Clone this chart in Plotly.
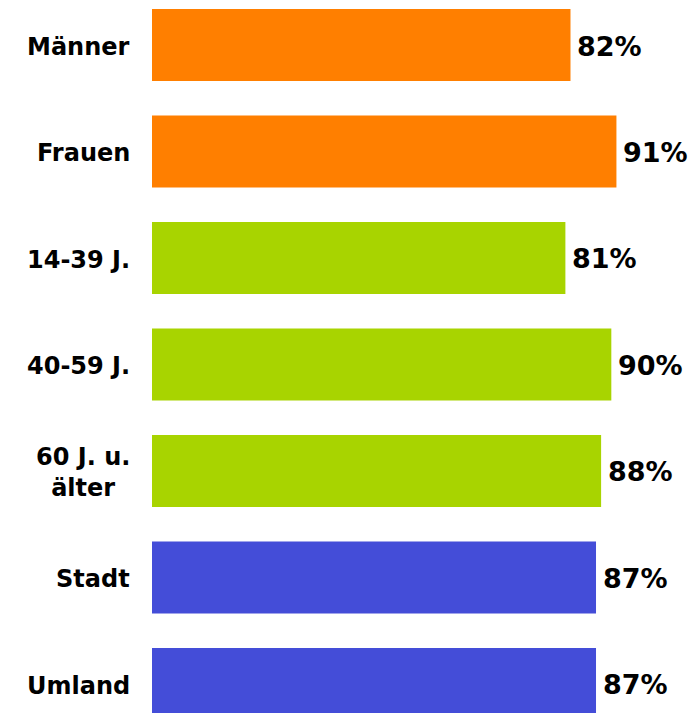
import plotly.graph_objects as go

categories = ["Männer", "Frauen", "14-39 J.", "40-59 J.", "60 J. u.<br>älter", "Stadt", "Umland"]
values = [82, 91, 81, 90, 88, 87, 87]
colors = ["#FF7F00", "#FF7F00", "#A8D400", "#A8D400", "#A8D400", "#444DD8", "#444DD8"]
value_labels = [f"{v}%" for v in values]

FONT = "DejaVu Sans"

fig = go.Figure()
fig.add_trace(go.Bar(
    y=categories, x=values, orientation="h",
    marker=dict(color=colors, line=dict(width=0)),
    width=0.676, hoverinfo="skip",
))

for c, v, t in zip(categories, values, value_labels):
    fig.add_annotation(x=v, y=c, text=f"<b>{t}</b>", showarrow=False,
                       xanchor="left", xshift=5, yshift=-1,
                       font=dict(family=FONT, size=27, color="#000000"))
    fig.add_annotation(x=0, xref="paper", y=c, text=f"<b>{c}</b>", showarrow=False,
                       xanchor="right", xshift=-20, yshift=-2, align="center",
                       font=dict(family=FONT, size=24, color="#000000"))

fig.update_layout(
    width=694, height=713,
    margin=dict(l=152, r=0, t=0, b=0),
    paper_bgcolor="white", plot_bgcolor="white",
    showlegend=False,
    xaxis=dict(range=[0, 106.2], visible=False, fixedrange=True),
    yaxis=dict(type="category", categoryorder="array", categoryarray=categories,
               range=[6.2725, -0.4225], visible=False, fixedrange=True),
)

fig.write_html("out.html", config={"displayModeBar": False},
               post_script="document.body.style.margin='0';document.body.style.overflow='hidden';")
